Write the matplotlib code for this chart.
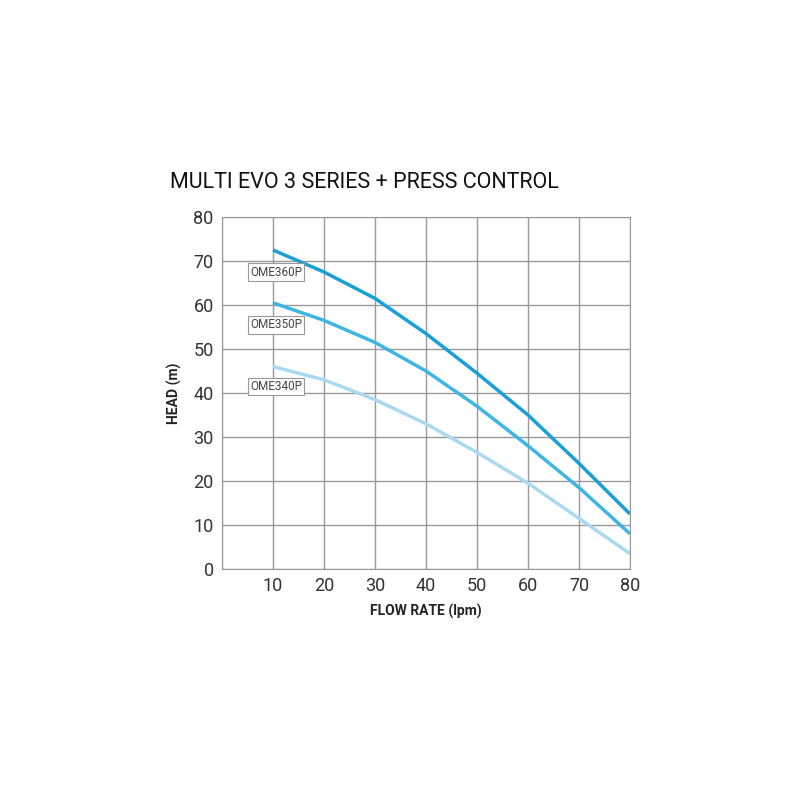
import matplotlib
matplotlib.use("Agg")
import matplotlib.pyplot as plt

plt.rcParams['font.family'] = ['Roboto', 'DejaVu Sans']

flow = [10, 20, 30, 40, 50, 60, 70, 80]
ome360 = [72.5, 67.5, 61.5, 53.5, 44.5, 35, 24, 12.5]
ome350 = [60.5, 56.5, 51.5, 45, 37, 28, 18.5, 8]
ome340 = [46, 43, 38.5, 33, 26.5, 19.5, 11.5, 3.5]
names = ['OME360P', 'OME350P', 'OME340P']
label_y = [67.5, 55.5, 41.5]
colors = ['#1b9fd9', '#3db6e4', '#a9daf1']

fig = plt.figure(figsize=(8, 8), dpi=100)
ax = fig.add_axes([0.2775, 0.28875, 0.51, 0.44])
for ys, c in zip([ome360, ome350, ome340], colors):
    ax.plot(flow, ys, color=c, lw=2.5, solid_capstyle='butt')
for n, ly in zip(names, label_y):
    ax.text(5.5, ly, n, fontsize=8.5, color='#444444', va='center', ha='left',
            bbox=dict(boxstyle='square,pad=0.2', fc='white', ec='#999999', lw=0.8))
ax.set_xlim(0, 80)
ax.set_ylim(0, 80)
ax.set_xticks(range(0, 81, 10))
ax.set_xticklabels([''] + [str(v) for v in range(10, 81, 10)])
ax.set_yticks(range(0, 81, 10))
ax.grid(True, color='#999999', lw=1)
for s in ax.spines.values():
    s.set_color('#999999')
ax.tick_params(length=0, labelsize=13, colors='#333333', pad=6)
ax.set_xlabel('FLOW RATE (lpm)', fontsize=10, fontweight='bold', color='#222222', labelpad=6)
ax.set_ylabel('HEAD (m)', fontsize=10, fontweight='bold', color='#222222', labelpad=8)
fig.text(0.212, 0.772, 'MULTI EVO 3 SERIES + PRESS CONTROL', fontsize=15.5, color='#111111', va='center')
fig.savefig('out.png')
